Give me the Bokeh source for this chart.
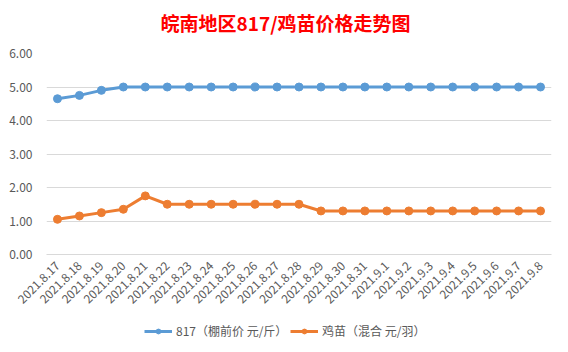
from bokeh.plotting import figure
from bokeh.layouts import column
from bokeh.models import (FactorRange, Range1d, FixedTicker, NumeralTickFormatter,
                          Legend, LegendItem, Label)
from bokeh.embed import file_html
from bokeh.resources import INLINE
import math

title_text = "皖南地区817/鸡苗价格走势图"
dates = ["2021.8.17", "2021.8.18", "2021.8.19", "2021.8.20", "2021.8.21", "2021.8.22",
         "2021.8.23", "2021.8.24", "2021.8.25", "2021.8.26", "2021.8.27", "2021.8.28",
         "2021.8.29", "2021.8.30", "2021.8.31", "2021.9.1", "2021.9.2", "2021.9.3",
         "2021.9.4", "2021.9.5", "2021.9.6", "2021.9.7", "2021.9.8"]
price_817 = [4.65, 4.75, 4.9, 5.0, 5.0, 5.0, 5.0, 5.0, 5.0, 5.0, 5.0, 5.0,
             5.0, 5.0, 5.0, 5.0, 5.0, 5.0, 5.0, 5.0, 5.0, 5.0, 5.0]
price_chick = [1.05, 1.15, 1.25, 1.35, 1.75, 1.5, 1.5, 1.5, 1.5, 1.5, 1.5, 1.5,
               1.3, 1.3, 1.3, 1.3, 1.3, 1.3, 1.3, 1.3, 1.3, 1.3, 1.3]
series_names = ["817（棚前价 元/斤）", "鸡苗（混合 元/羽）"]
y_ticks = [0, 1, 2, 3, 4, 5, 6]

BLUE = "#5B9BD5"
ORANGE = "#ED7D31"
GRID = "#D9D9D9"
TXT = "#595959"
CJK = "Noto Sans CJK SC"
W = 568

# ---- title strip ----
t = figure(width=W, height=40, output_backend="svg", toolbar_location=None,
           x_axis_type=None, y_axis_type=None, min_border=0,
           x_range=Range1d(0, 1), y_range=Range1d(0, 1))
t.outline_line_color = None
t.grid.grid_line_color = None
t.border_fill_color = "white"
t.add_layout(Label(x=239, y=18, x_units="screen", y_units="screen", text=title_text,
                   text_align="center", text_baseline="middle",
                   text_font=CJK, text_font_style="bold", text_font_size="19px",
                   text_color="#FF0000"))

# ---- main chart ----
p = figure(width=W, height=270, output_backend="svg", toolbar_location=None,
           x_range=FactorRange(*dates, range_padding=0), y_range=Range1d(0, 6),
           min_border_left=46, min_border_right=17, min_border_top=13,
           min_border_bottom=56)
p.outline_line_color = None
p.background_fill_color = "white"
p.border_fill_color = "white"

p.xgrid.grid_line_color = None
p.ygrid.grid_line_color = GRID
p.ygrid.grid_line_width = 1

p.yaxis.ticker = FixedTicker(ticks=y_ticks)
p.yaxis.formatter = NumeralTickFormatter(format="0.00")
p.yaxis.axis_line_color = None
p.yaxis.major_tick_line_color = None
p.yaxis.minor_tick_line_color = None
p.yaxis.major_label_text_color = TXT
p.yaxis.major_label_text_font = CJK
p.yaxis.major_label_text_font_size = "12px"
p.yaxis.major_label_standoff = 8

p.xaxis.axis_line_color = GRID
p.xaxis.major_tick_line_color = None
p.xaxis.minor_tick_line_color = None
p.xaxis.major_label_orientation = math.pi / 4
p.xaxis.major_label_text_color = TXT
p.xaxis.major_label_text_font = CJK
p.xaxis.major_label_text_font_size = "12px"
p.xaxis.major_label_standoff = 3

p.line(dates, price_817, line_color=BLUE, line_width=3)
p.scatter(dates, price_817, size=8, fill_color=BLUE, line_color=BLUE)
p.line(dates, price_chick, line_color=ORANGE, line_width=3)
p.scatter(dates, price_chick, size=8, fill_color=ORANGE, line_color=ORANGE)

# ---- legend strip (series drawn out of view, only legend glyphs show) ----
q = figure(width=W, height=42, output_backend="svg", toolbar_location=None,
           x_axis_type=None, y_axis_type=None, min_border=0,
           x_range=FactorRange(*dates, range_padding=0), y_range=Range1d(100, 101))
q.outline_line_color = None
q.grid.grid_line_color = None
q.border_fill_color = "white"
ql1 = q.line(dates, price_817, line_color=BLUE, line_width=3)
qc1 = q.scatter(dates, price_817, size=8, fill_color=BLUE, line_color=BLUE)
ql2 = q.line(dates, price_chick, line_color=ORANGE, line_width=3)
qc2 = q.scatter(dates, price_chick, size=8, fill_color=ORANGE, line_color=ORANGE)

common = dict(orientation="horizontal", label_text_font=CJK,
              label_text_font_size="12px", label_text_color=TXT,
              glyph_width=28, glyph_height=12, label_standoff=4,
              background_fill_alpha=0, border_line_color=None, padding=0, margin=0)
leg1 = Legend(items=[LegendItem(label=series_names[0], renderers=[ql1, qc1])],
              location=(98, 13), **common)
leg2 = Legend(items=[LegendItem(label=series_names[1], renderers=[ql2, qc2])],
              location=(244, 13), **common)
q.add_layout(leg1, "center")
q.add_layout(leg2, "center")

layout = column(t, p, q, spacing=0)
open("out.html", "w").write(file_html(layout, INLINE))
